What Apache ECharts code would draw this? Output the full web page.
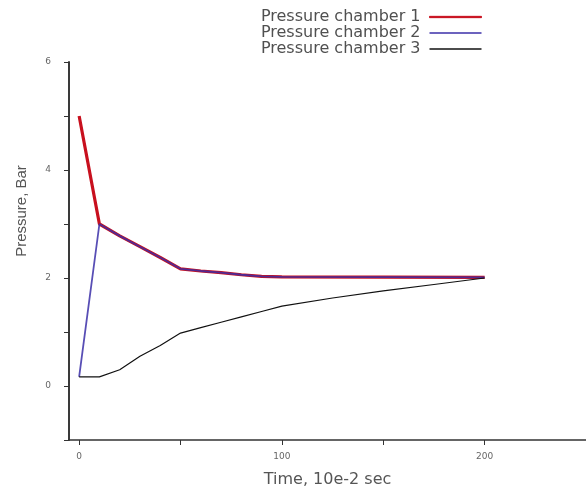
<!DOCTYPE html>
<html>
<head>
<meta charset="utf-8">
<script src="https://cdn.jsdelivr.net/npm/echarts@6/dist/echarts.min.js"></script>
<style>
  html, body { margin: 0; padding: 0; background: #fff; }
  #chart { width: 586px; height: 495px; }
</style>
</head>
<body>
<div id="chart"></div>
<script>
// time in 10e-2 sec
var time = [0, 10, 20, 30, 40, 50, 60, 70, 80, 90, 100, 200]
var chamber1 = [5, 3, 2.78, 2.58, 2.38, 2.17, 2.13, 2.1, 2.06, 2.03, 2.02, 2.01]
var chamber2 = [0.17, 3, 2.78, 2.58, 2.38, 2.17, 2.13, 2.1, 2.06, 2.03, 2.02, 2.01]
var time3 = [0, 10, 20, 30, 40, 50, 60, 70, 80, 90, 100, 125, 150, 175, 200]
var chamber3 = [0.17, 0.17, 0.3, 0.55, 0.75, 0.98, 1.08, 1.18, 1.28, 1.38, 1.48, 1.63, 1.76, 1.88, 2.0]
var xTicks = [0, 50, 100, 150, 200, 250]
var xLabels = [0, 100, 200]

function pairs(xs, ys) {
  return xs.map(function (x, i) { return [x, ys[i]] })
}

var font = 'DejaVu Sans'
var chart = echarts.init(document.getElementById('chart'))
chart.setOption({
  animation: false,
  grid: { left: 69, right: 0, top: 62, bottom: 55 },
  legend: {
    orient: 'vertical',
    right: 99,
    top: 4,
    align: 'right',
    itemGap: 0,
    itemWidth: 52,
    itemHeight: 1.3,
    textStyle: { color: '#505050', fontSize: 16, fontFamily: font, lineHeight: 16, padding: [0, 4, 0, 0] },
    data: [
      { name: 'Pressure chamber 1', icon: 'rect', itemStyle: { color: '#c8101e', borderColor: '#c8101e', borderWidth: 1 } },
      { name: 'Pressure chamber 2', icon: 'rect', itemStyle: { color: '#3b2fa8', borderWidth: 0 } },
      { name: 'Pressure chamber 3', icon: 'rect', itemStyle: { color: '#111', borderWidth: 0 } }
    ]
  },
  xAxis: {
    type: 'value',
    min: -5,
    max: 250,
    name: 'Time, 10e-2 sec',
    nameLocation: 'middle',
    nameGap: 32,
    nameTextStyle: { color: '#555', fontSize: 16, fontFamily: font },
    splitLine: { show: false },
    axisLine: { onZero: false, lineStyle: { color: '#333', width: 1.5 } },
    axisTick: { customValues: xTicks, length: 5, lineStyle: { color: '#333' } },
    axisLabel: { customValues: xLabels, color: '#666', fontSize: 9, margin: 12, fontFamily: font }
  },
  yAxis: {
    type: 'value',
    min: -1,
    max: 6,
    interval: 1,
    name: 'Pressure, Bar',
    nameLocation: 'middle',
    nameGap: 40,
    nameTextStyle: { color: '#555', fontSize: 15, fontFamily: 'Liberation Sans', padding: [0, 0, 0, 80] },
    splitLine: { show: false },
    axisLine: { show: true, onZero: false, lineStyle: { color: '#3a3a3a', width: 2 } },
    axisTick: { show: true, length: 5, lineStyle: { color: '#333' } },
    axisLabel: {
      color: '#666',
      fontSize: 9,
      margin: 18,
      fontFamily: font,
      formatter: function (v) { return v >= 0 && v % 2 === 0 ? v : '' }
    }
  },
  series: [
    {
      name: 'Pressure chamber 1',
      type: 'line',
      symbol: 'none',
      data: pairs(time, chamber1),
      lineStyle: { color: '#c8101e', width: 3.2 },
      itemStyle: { color: '#c8101e' }
    },
    {
      name: 'Pressure chamber 2',
      type: 'line',
      symbol: 'none',
      data: pairs(time, chamber2),
      lineStyle: { color: '#3b2fa8', width: 1.8, opacity: 0.85 },
      itemStyle: { color: '#3b2fa8' }
    },
    {
      name: 'Pressure chamber 3',
      type: 'line',
      symbol: 'none',
      data: pairs(time3, chamber3),
      lineStyle: { color: '#111', width: 1.2 },
      itemStyle: { color: '#111' }
    }
  ]
})
</script>
</body>
</html>
